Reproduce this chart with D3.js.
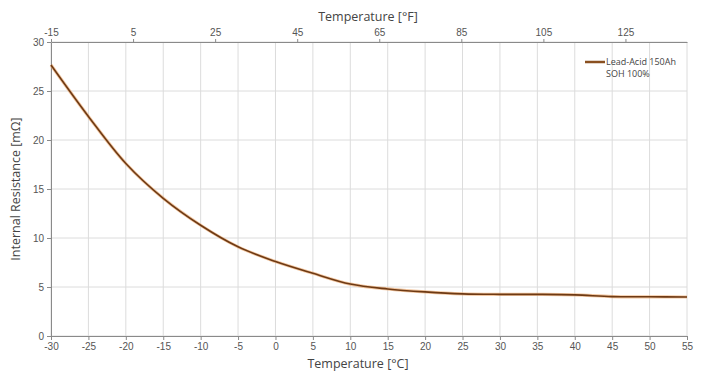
<!DOCTYPE html>
<html>
<head>
<meta charset="utf-8">
<script src="https://cdn.jsdelivr.net/npm/d3@7"></script>
<style>
  body { margin: 0; background: #fff; }
  svg { font-family: "Open Sans", "DejaVu Sans", sans-serif; }
  .grid line { stroke: #dcdcdc; stroke-width: 1; }
  .axis path, .axis line { stroke: #8a8a8a; }
  .axis text { fill: #555; font-size: 10px; }
</style>
</head>
<body>
<div id="chart"></div>
<script>
// temperature in °C and internal resistance in mΩ
var tempC = [-30, -25, -20, -15, -10, -5, 0, 5, 10, 15, 20, 25, 30, 35, 40, 45, 50, 55];
var resistance = [27.65, 22.4, 17.6, 14.05, 11.3, 9.1, 7.6, 6.4, 5.3, 4.8, 4.5, 4.3, 4.25, 4.25, 4.2, 4.02, 4.0, 3.98];
var ticksC = [-30, -25, -20, -15, -10, -5, 0, 5, 10, 15, 20, 25, 30, 35, 40, 45, 50, 55];
var ticksF = [-15, 5, 25, 45, 65, 85, 105, 125];
var ticksY = [0, 5, 10, 15, 20, 25, 30];
var legendLines = ['Lead-Acid 150Ah', 'SOH 100%'];

var width = 707, height = 374;
var margin = {top: 42, right: 20, bottom: 38, left: 51};
var w = width - margin.left - margin.right;
var h = height - margin.top - margin.bottom;

var svg = d3.select('#chart').append('svg')
  .attr('width', width)
  .attr('height', height);

var g = svg.append('g')
  .attr('transform', 'translate(' + margin.left + ',' + margin.top + ')');

var x = d3.scaleLinear().domain([-30, 55]).range([0, w]);
var xF = d3.scaleLinear().domain([-15, 140]).range([0, w]);
var y = d3.scaleLinear().domain([0, 30]).range([h, 0]);

// grid
g.append('g').attr('class', 'grid')
  .selectAll('line.v').data(ticksC).enter().append('line')
  .attr('x1', function(d) { return x(d); })
  .attr('x2', function(d) { return x(d); })
  .attr('y1', 0).attr('y2', h);

g.append('g').attr('class', 'grid')
  .selectAll('line.h').data(ticksY).enter().append('line')
  .attr('x1', 0).attr('x2', w)
  .attr('y1', function(d) { return y(d); })
  .attr('y2', function(d) { return y(d); });

// axes
g.append('g').attr('class', 'axis')
  .attr('transform', 'translate(0,' + h + ')')
  .call(d3.axisBottom(x).tickValues(ticksC).tickSize(4).tickPadding(3).tickSizeOuter(0));

g.append('g').attr('class', 'axis')
  .call(d3.axisLeft(y).tickValues(ticksY).tickSize(4).tickPadding(3).tickSizeOuter(0));

g.append('g').attr('class', 'axis')
  .call(d3.axisTop(xF).tickValues(ticksF).tickSize(3).tickPadding(3).tickSizeOuter(0));

g.selectAll('.axis text').text(function() {
  return this.textContent.replace('\u2212', '-');
});

// axis titles
g.append('text')
  .attr('x', 307).attr('y', h + 32)
  .attr('text-anchor', 'middle')
  .attr('fill', '#444').attr('font-size', '12.5px')
  .text('Temperature [°C]');

g.append('text')
  .attr('x', 317).attr('y', -21)
  .attr('text-anchor', 'middle')
  .attr('fill', '#444').attr('font-size', '12.5px')
  .text('Temperature [°F]');

g.append('text')
  .attr('transform', 'translate(-31,' + (h / 2) + ') rotate(-90)')
  .attr('text-anchor', 'middle')
  .attr('fill', '#444').attr('font-size', '12.5px')
  .text('Internal Resistance [mΩ]');

// curve
var line = d3.line()
  .x(function(d, i) { return x(tempC[i]); })
  .y(function(d) { return y(d); })
  .curve(d3.curveCatmullRom.alpha(0.5));

g.append('path').datum(resistance)
  .attr('d', line)
  .attr('fill', 'none')
  .attr('stroke', '#e9a060')
  .attr('stroke-opacity', 0.6)
  .attr('stroke-width', 3.2);

g.append('path').datum(resistance)
  .attr('d', line)
  .attr('fill', 'none')
  .attr('stroke', '#6e3a14')
  .attr('stroke-width', 1.6);

// legend
var lg = g.append('g').attr('transform', 'translate(' + (w - 102) + ',20)');
lg.append('line')
  .attr('x1', 0).attr('x2', 20).attr('y1', 0).attr('y2', 0)
  .attr('stroke', '#8a5020').attr('stroke-width', 2.5);
lg.selectAll('text').data(legendLines).enter().append('text')
  .attr('x', 21)
  .attr('y', function(d, i) { return 3 + i * 12; })
  .attr('fill', '#444').attr('font-size', '9px')
  .text(function(d) { return d; });
</script>
</body>
</html>
